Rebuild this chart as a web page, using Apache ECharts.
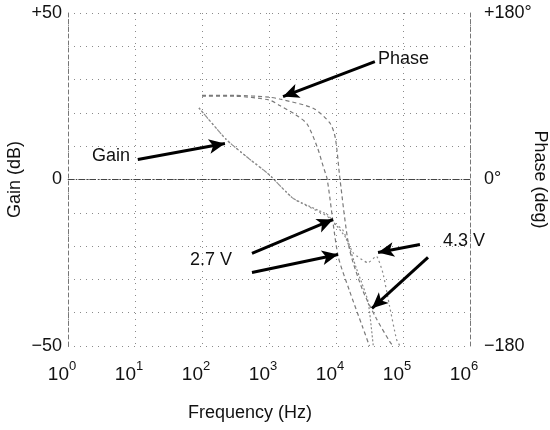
<!DOCTYPE html>
<html><head><meta charset="utf-8">
<script src="https://cdn.jsdelivr.net/npm/echarts/dist/echarts.min.js"></script>
<style>html,body{margin:0;padding:0;background:#fff}#c{width:550px;height:430px}</style>
</head><body><div id="c"></div>
<script>
// ---- data (frequency in Hz) ----
const gain27Freq  = [90, 230, 500, 1000, 2300, 7400, 9000, 14000, 20000, 30000, 36000];
const gain27Db    = [21.5, 12, 6.3, 1.5, -5.7, -10.5, -12.5, -17.5, -26.5, -36.5, -50];
const gain43Freq  = [90, 230, 500, 1000, 2300, 7400, 9000, 12500, 18000, 30000, 40000, 50000, 63000, 80000, 90000];
const gain43Db    = [21.5, 12, 6.3, 1.5, -5.7, -11, -13, -15, -22, -25, -23, -28, -38, -48, -50];
const phase27Freq = [100, 300, 1000, 1450, 2500, 3700, 5250, 6450, 7400, 10700, 15850, 25100, 31600];
const phase27Deg  = [90, 90, 86, 80, 70, 60, 35, 14, 0, -82, -120, -160, -180];
const phase43Freq = [100, 300, 1000, 1445, 4570, 8130, 9770, 11480, 15850, 25100, 39800, 63100, 70800];
const phase43Deg  = [91, 91, 89, 87, 77, 61, 45, 0, -75, -120, -150, -175, -180];
const xTickExponents = ['0','1','2','3','4','5','6'];
const gainTickLabels  = {'50':'+50', '0':'0', '-50':'\u221250'};
const phaseTickLabels = {'180':'+180\u00b0', '0':'0\u00b0', '-180':'\u2212180'};
// arrows: [tailFreq, tailDb, headFreq, headDb] (in gain-axis data space)
const arrows = [
  [38000, 35.4, 1620, 24.9],
  [11, 6.0, 220, 10.8],
  [557, -22.2, 9020, -12.0],
  [557, -27.9, 10700, -22.5],
  [179000, -19.5, 42400, -21.9],
  [236000, -23.4, 34400, -38.7]
];
const annotations = [
  {text:'Phase', x:378, y:60},
  {text:'Gain',  x:92,  y:157},
  {text:'2.7 V', x:190, y:261},
  {text:'4.3 V', x:443, y:242}
];

const zip = (a, b) => a.map((v, i) => [v, b[i]]);
const FONT = '"Liberation Sans", Arial, sans-serif';
const chart = echarts.init(document.getElementById('c'), null, {renderer:'canvas'});
const gridLine = {show:true, lineStyle:{color:'#8a8a8a', width:1, type:[1,5]}};

chart.setOption({
  backgroundColor:'#fff',
  animation:false,
  grid:{left:68, right:80, top:13, bottom:84, containLabel:false, outerBoundsMode:'none'},
  xAxis:{
    type:'log', logBase:10, min:1, max:1000000,
    name:'Frequency (Hz)', nameLocation:'middle', nameGap:58, nameMoveOverlap:false,
    nameTextStyle:{fontFamily:FONT, fontSize:18, color:'#111', padding:[0,38,0,0]},
    axisLine:{show:true, lineStyle:{color:'#888', type:[2,3]}},
    axisTick:{show:false},
    splitLine:gridLine,
    axisLabel:{
      margin:14, color:'#111', padding:[0,12,0,0],
      formatter: v => '{b|10}{s|' + xTickExponents[Math.round(Math.log10(v))] + '}',
      rich:{ b:{fontFamily:FONT, fontSize:19, color:'#111', lineHeight:24, verticalAlign:'bottom'},
             s:{fontFamily:FONT, fontSize:13, color:'#111', lineHeight:24, verticalAlign:'top'} }
    }
  },
  yAxis:[{
    type:'value', min:-50, max:50, interval:10, position:'left',
    name:'Gain (dB)', nameLocation:'middle', nameGap:44, nameRotate:90, nameMoveOverlap:false,
    nameTextStyle:{fontFamily:FONT, fontSize:18, color:'#111'},
    axisLine:{show:true, lineStyle:{color:'#777', type:[4,3]}},
    axisTick:{show:false},
    splitLine:gridLine,
    axisLabel:{margin:6, fontFamily:FONT, fontSize:18, color:'#111',
      formatter: v => gainTickLabels[String(v)] || ''}
  },{
    type:'value', min:-180, max:180, interval:180, position:'right',
    name:'Phase (deg)', nameLocation:'middle', nameGap:61, nameRotate:-90, nameMoveOverlap:false,
    nameTextStyle:{fontFamily:FONT, fontSize:18, color:'#111'},
    axisLine:{show:true, lineStyle:{color:'#777', type:[4,3]}},
    axisTick:{show:false},
    splitLine:{show:false},
    axisLabel:{margin:14, fontFamily:FONT, fontSize:18, color:'#111',
      formatter: v => phaseTickLabels[String(v)] || ''}
  }],
  series:[
    {type:'line', name:'Gain 2.7 V', yAxisIndex:0, data:zip(gain27Freq, gain27Db), smooth:0.15,
     showSymbol:false, lineStyle:{color:'#8a8a8a', width:1.2, type:[2,2]},
     markLine:{silent:true, symbol:['none','none'], label:{show:false},
       lineStyle:{color:'#444', width:1.2, type:[6,2,1,2]}, data:[{yAxis:0}]}},
    {type:'line', name:'Gain 4.3 V', yAxisIndex:0, data:zip(gain43Freq, gain43Db), smooth:0.15,
     showSymbol:false, lineStyle:{color:'#8a8a8a', width:1.2, type:[2,3]},
     markLine:{silent:true, symbol:['none','arrow'], symbolSize:[11,16], label:{show:false},
       lineStyle:{color:'#000', width:3, type:'solid'},
       data: arrows.map(a => [{coord:[a[0], a[1]]}, {coord:[a[2], a[3]]}])}},
    {type:'line', name:'Phase 2.7 V', yAxisIndex:1, data:zip(phase27Freq, phase27Deg), smooth:0.25,
     showSymbol:false, lineStyle:{color:'#7a7a7a', width:1.2, type:[4,3]}},
    {type:'line', name:'Phase 4.3 V', yAxisIndex:1, data:zip(phase43Freq, phase43Deg), smooth:0.25,
     showSymbol:false, lineStyle:{color:'#7a7a7a', width:1.2, type:[4,3]}}
  ],
  graphic: annotations.map(a => ({type:'text', left:a.x, top:a.y - 10, silent:true,
    style:{text:a.text, fontFamily:FONT, fontSize:18, fill:'#111'}}))
});
</script>
</body></html>
